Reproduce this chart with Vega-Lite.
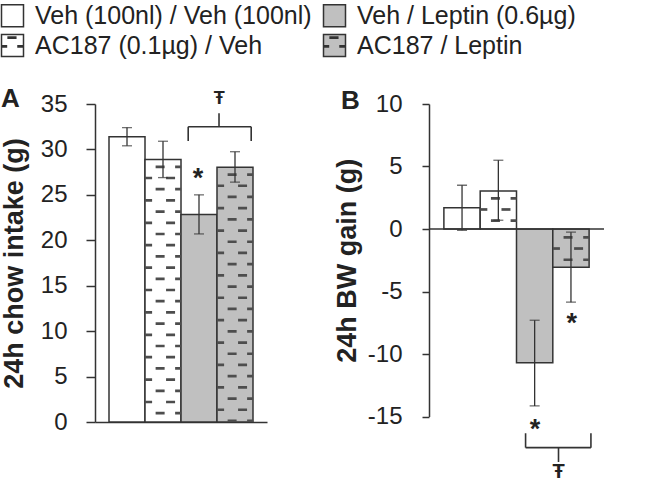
{
  "$schema": "https://vega.github.io/schema/vega-lite/v6.json",
  "padding": {"left": 0, "top": 3, "right": 0, "bottom": 8},
  "background": "white",
  "datasets": {
    "A": [
      {"group": "Veh (100nl) / Veh (100nl)", "value": 31.4, "lo": 30.4, "hi": 32.4},
      {"group": "AC187 (0.1µg) / Veh", "value": 28.9, "lo": 26.9, "hi": 30.9},
      {"group": "Veh / Leptin (0.6µg)", "value": 22.85, "lo": 20.7, "hi": 25.0},
      {"group": "AC187 / Leptin", "value": 28.05, "lo": 26.4, "hi": 29.75}
    ],
    "B": [
      {"group": "Veh (100nl) / Veh (100nl)", "value": 1.7, "lo": -0.1, "hi": 3.5},
      {"group": "AC187 (0.1µg) / Veh", "value": 3.05, "lo": 0.7, "hi": 5.5},
      {"group": "Veh / Leptin (0.6µg)", "value": -10.7, "lo": -14.15, "hi": -7.3},
      {"group": "AC187 / Leptin", "value": -3.05, "lo": -5.85, "hi": -0.25}
    ]
  },
  "config": {
    "font": "Liberation Sans",
    "view": {"stroke": null},
    "axis": {
      "labelFont": "Liberation Sans", "labelFontSize": 24, "labelColor": "#222",
      "titleFont": "Liberation Sans", "titleFontSize": 27, "titleFontWeight": "bold", "titleColor": "#222",
      "domainColor": "#333", "domainWidth": 1.5, "tickColor": "#333", "tickWidth": 1.5, "grid": false
    },
    "legend": {"padding": 0}
  },
  "spacing": 162,
  "bounds": "flush",
  "hconcat": [
    {
      "width": 172,
      "height": 318,
      "data": {"name": "A"},
      "title": {"text": "A", "anchor": "start", "frame": "group", "dx": -94, "dy": 43, "offset": 0, "fontSize": 26, "fontWeight": "bold", "color": "#222", "baseline": "alphabetic"},
      "layer": [
        {
          "mark": {"type": "bar", "stroke": "#333", "strokeWidth": 1.5},
          "encoding": {
            "x": {"field": "group", "type": "nominal",
                  "scale": {"domain": ["Veh (100nl) / Veh (100nl)", "AC187 (0.1µg) / Veh", "Veh / Leptin (0.6µg)", "AC187 / Leptin"], "paddingInner": 0, "paddingOuter": 0.389},
                  "axis": {"labels": false, "ticks": false, "title": null, "domain": true}},
            "y": {"field": "value", "type": "quantitative",
                  "scale": {"domain": [0, 35], "nice": false},
                  "axis": {"values": [0, 5, 10, 15, 20, 25, 30, 35], "title": "24h chow intake (g)", "tickSize": 9, "labelPadding": 19, "titlePadding": 12}},
            "color": {"field": "group", "type": "nominal",
                      "scale": {"domain": ["Veh (100nl) / Veh (100nl)", "AC187 (0.1µg) / Veh", "Veh / Leptin (0.6µg)", "AC187 / Leptin"], "range": ["#ffffff", "#ffffff", "#c0c0c0", "#c0c0c0"]},
                      "legend": {"title": null, "orient": "none", "legendX": -95, "legendY": -101, "columns": 2, "symbolType": "square", "symbolSize": 484, "symbolStrokeColor": "#333", "symbolStrokeWidth": 1.5, "labelFont": "Liberation Sans", "labelFontSize": 25, "labelColor": "#222", "labelOffset": 10, "columnPadding": 8, "rowPadding": 1, "labelLimit": 0,
                                 "encode": {"symbols": {"update": {"shape": [{"test": "indexof(datum.value, 'AC187') >= 0", "value": "M-1,-1H1V1H-1Z M-0.4,-0.78H0.3V-0.66H-0.4Z M-1,0.02H-0.55V0.14H-1Z M0.5,0.02H1V0.14H0.5Z"}, {"value": "square"}]}}}}}
          }
        },
        {
          "transform": [{"filter": "indexof(datum.group, 'AC187') >= 0"}],
          "mark": {"type": "rule", "color": "#4d4d4d", "strokeWidth": 7, "strokeDash": [2.7, 19.7], "strokeDashOffset": 5.15},
          "encoding": {"x": {"field": "group", "type": "nominal", "bandPosition": 0.1}, "y": {"field": "value", "type": "quantitative"}, "y2": {"datum": 0}}
        },
        {
          "transform": [{"filter": "indexof(datum.group, 'AC187') >= 0"}],
          "mark": {"type": "rule", "color": "#4d4d4d", "strokeWidth": 9, "strokeDash": [2.7, 19.7], "strokeDashOffset": 16.35},
          "encoding": {"x": {"field": "group", "type": "nominal", "bandPosition": 0.42}, "y": {"field": "value", "type": "quantitative"}, "y2": {"datum": 0}}
        },
        {
          "transform": [{"filter": "indexof(datum.group, 'AC187') >= 0"}],
          "mark": {"type": "rule", "color": "#4d4d4d", "strokeWidth": 9, "strokeDash": [2.7, 19.7], "strokeDashOffset": 5.15},
          "encoding": {"x": {"field": "group", "type": "nominal", "bandPosition": 0.71}, "y": {"field": "value", "type": "quantitative"}, "y2": {"datum": 0}}
        },
        {
          "transform": [{"filter": "indexof(datum.group, 'AC187') >= 0"}],
          "mark": {"type": "rule", "color": "#4d4d4d", "strokeWidth": 6, "strokeDash": [2.7, 19.7], "strokeDashOffset": 16.35},
          "encoding": {"x": {"field": "group", "type": "nominal", "bandPosition": 0.92}, "y": {"field": "value", "type": "quantitative"}, "y2": {"datum": 0}}
        },
        {
          "mark": {"type": "rule", "color": "#333", "strokeWidth": 1.3},
          "encoding": {"x": {"field": "group", "type": "nominal"}, "y": {"field": "lo", "type": "quantitative"}, "y2": {"field": "hi"}}
        },
        {
          "mark": {"type": "tick", "color": "#333", "thickness": 1.3, "size": 10, "orient": "horizontal"},
          "encoding": {"x": {"field": "group", "type": "nominal"}, "y": {"field": "hi", "type": "quantitative"}}
        },
        {
          "mark": {"type": "tick", "color": "#333", "thickness": 1.3, "size": 10, "orient": "horizontal"},
          "encoding": {"x": {"field": "group", "type": "nominal"}, "y": {"field": "lo", "type": "quantitative"}}
        },
        {
          "data": {"values": [{}]},
          "mark": {"type": "text", "text": "*", "fontSize": 27, "fontWeight": "bold", "baseline": "alphabetic", "color": "#222"},
          "encoding": {"x": {"datum": "Veh / Leptin (0.6µg)", "bandPosition": 0.47}, "y": {"datum": 25.9}}
        },
        {
          "data": {"values": [{}]},
          "mark": {"type": "rule", "color": "#333", "strokeWidth": 1.6},
          "encoding": {"x": {"datum": "Veh / Leptin (0.6µg)", "bandPosition": 0.2}, "x2": {"datum": "AC187 / Leptin", "bandPosition": 0.95}, "y": {"datum": 32.5}}
        },
        {
          "data": {"values": [{}]},
          "mark": {"type": "rule", "color": "#333", "strokeWidth": 1.6},
          "encoding": {"x": {"datum": "Veh / Leptin (0.6µg)", "bandPosition": 0.2}, "y": {"datum": 30.93}, "y2": {"datum": 32.5}}
        },
        {
          "data": {"values": [{}]},
          "mark": {"type": "rule", "color": "#333", "strokeWidth": 1.6},
          "encoding": {"x": {"datum": "AC187 / Leptin", "bandPosition": 0.95}, "y": {"datum": 30.93}, "y2": {"datum": 32.5}}
        },
        {
          "data": {"values": [{}]},
          "mark": {"type": "rule", "color": "#333", "strokeWidth": 1.6},
          "encoding": {"x": {"datum": "AC187 / Leptin", "bandPosition": 0.056}, "y": {"datum": 32.5}, "y2": {"datum": 33.98}}
        },
        {
          "data": {"values": [{}]},
          "mark": {"type": "text", "text": "Ŧ", "fontSize": 18, "fontWeight": "bold", "baseline": "alphabetic", "color": "#222"},
          "encoding": {"x": {"datum": "AC187 / Leptin", "bandPosition": 0.06}, "y": {"datum": 34.95}}
        }
      ]
    },
    {
      "width": 175,
      "height": 312.5,
      "data": {"name": "B"},
      "title": {"text": "B", "anchor": "start", "frame": "group", "dx": -88, "dy": 43, "offset": 0, "fontSize": 26, "fontWeight": "bold", "color": "#222", "baseline": "alphabetic"},
      "layer": [
        {
          "mark": {"type": "bar", "stroke": "#333", "strokeWidth": 1.5},
          "encoding": {
            "x": {"field": "group", "type": "nominal",
                  "scale": {"domain": ["Veh (100nl) / Veh (100nl)", "AC187 (0.1µg) / Veh", "Veh / Leptin (0.6µg)", "AC187 / Leptin"], "paddingInner": 0, "paddingOuter": 0.41},
                  "axis": null},
            "y": {"field": "value", "type": "quantitative",
                  "scale": {"domain": [-15, 10], "nice": false},
                  "axis": {"values": [-15, -10, -5, 0, 5, 10], "labelExpr": "'' + datum.value", "title": "24h BW gain (g)", "tickSize": 7, "labelPadding": 20, "titlePadding": 6}},
            "color": {"field": "group", "type": "nominal",
                      "scale": {"domain": ["Veh (100nl) / Veh (100nl)", "AC187 (0.1µg) / Veh", "Veh / Leptin (0.6µg)", "AC187 / Leptin"], "range": ["#ffffff", "#ffffff", "#c0c0c0", "#c0c0c0"]},
                      "legend": {"title": null, "orient": "none", "legendX": -95, "legendY": -101, "columns": 2, "symbolType": "square", "symbolSize": 484, "symbolStrokeColor": "#333", "symbolStrokeWidth": 1.5, "labelFont": "Liberation Sans", "labelFontSize": 25, "labelColor": "#222", "labelOffset": 10, "columnPadding": 8, "rowPadding": 1, "labelLimit": 0,
                                 "encode": {"symbols": {"update": {"shape": [{"test": "indexof(datum.value, 'AC187') >= 0", "value": "M-1,-1H1V1H-1Z M-0.4,-0.78H0.3V-0.66H-0.4Z M-1,0.02H-0.55V0.14H-1Z M0.5,0.02H1V0.14H0.5Z"}, {"value": "square"}]}}}}}
          }
        },
        {
          "transform": [{"filter": "indexof(datum.group, 'AC187') >= 0"}],
          "mark": {"type": "rule", "color": "#4d4d4d", "strokeWidth": 7, "strokeDash": [2.7, 19.7], "strokeDashOffset": 5.15},
          "encoding": {"x": {"field": "group", "type": "nominal", "bandPosition": 0.1}, "y": {"field": "value", "type": "quantitative"}, "y2": {"datum": 0}}
        },
        {
          "transform": [{"filter": "indexof(datum.group, 'AC187') >= 0"}],
          "mark": {"type": "rule", "color": "#4d4d4d", "strokeWidth": 9, "strokeDash": [2.7, 19.7], "strokeDashOffset": 16.35},
          "encoding": {"x": {"field": "group", "type": "nominal", "bandPosition": 0.42}, "y": {"field": "value", "type": "quantitative"}, "y2": {"datum": 0}}
        },
        {
          "transform": [{"filter": "indexof(datum.group, 'AC187') >= 0"}],
          "mark": {"type": "rule", "color": "#4d4d4d", "strokeWidth": 9, "strokeDash": [2.7, 19.7], "strokeDashOffset": 5.15},
          "encoding": {"x": {"field": "group", "type": "nominal", "bandPosition": 0.71}, "y": {"field": "value", "type": "quantitative"}, "y2": {"datum": 0}}
        },
        {
          "transform": [{"filter": "indexof(datum.group, 'AC187') >= 0"}],
          "mark": {"type": "rule", "color": "#4d4d4d", "strokeWidth": 6, "strokeDash": [2.7, 19.7], "strokeDashOffset": 16.35},
          "encoding": {"x": {"field": "group", "type": "nominal", "bandPosition": 0.92}, "y": {"field": "value", "type": "quantitative"}, "y2": {"datum": 0}}
        },
        {
          "data": {"values": [{}]},
          "mark": {"type": "rule", "color": "#333", "strokeWidth": 1.5},
          "encoding": {"y": {"datum": 0}}
        },
        {
          "mark": {"type": "rule", "color": "#333", "strokeWidth": 1.3},
          "encoding": {"x": {"field": "group", "type": "nominal"}, "y": {"field": "lo", "type": "quantitative"}, "y2": {"field": "hi"}}
        },
        {
          "mark": {"type": "tick", "color": "#333", "thickness": 1.3, "size": 10, "orient": "horizontal"},
          "encoding": {"x": {"field": "group", "type": "nominal"}, "y": {"field": "hi", "type": "quantitative"}}
        },
        {
          "mark": {"type": "tick", "color": "#333", "thickness": 1.3, "size": 10, "orient": "horizontal"},
          "encoding": {"x": {"field": "group", "type": "nominal"}, "y": {"field": "lo", "type": "quantitative"}}
        },
        {
          "data": {"values": [{}]},
          "mark": {"type": "text", "text": "*", "fontSize": 27, "fontWeight": "bold", "baseline": "alphabetic", "color": "#222"},
          "encoding": {"x": {"datum": "AC187 / Leptin", "bandPosition": 0.52}, "y": {"datum": -8.26}}
        },
        {
          "data": {"values": [{}]},
          "mark": {"type": "text", "text": "*", "fontSize": 27, "fontWeight": "bold", "baseline": "alphabetic", "color": "#222"},
          "encoding": {"x": {"datum": "Veh / Leptin (0.6µg)", "bandPosition": 0.51}, "y": {"datum": -16.75}}
        },
        {
          "data": {"values": [{}]},
          "mark": {"type": "rule", "color": "#333", "strokeWidth": 1.6},
          "encoding": {"x": {"datum": "Veh / Leptin (0.6µg)", "bandPosition": 0.25}, "x2": {"datum": "AC187 / Leptin", "bandPosition": 1.05}, "y": {"datum": -17.49}}
        },
        {
          "data": {"values": [{}]},
          "mark": {"type": "rule", "color": "#333", "strokeWidth": 1.6},
          "encoding": {"x": {"datum": "Veh / Leptin (0.6µg)", "bandPosition": 0.25}, "y": {"datum": -16.34}, "y2": {"datum": -17.49}}
        },
        {
          "data": {"values": [{}]},
          "mark": {"type": "rule", "color": "#333", "strokeWidth": 1.6},
          "encoding": {"x": {"datum": "AC187 / Leptin", "bandPosition": 1.05}, "y": {"datum": -16.34}, "y2": {"datum": -17.49}}
        },
        {
          "data": {"values": [{}]},
          "mark": {"type": "rule", "color": "#333", "strokeWidth": 1.6},
          "encoding": {"x": {"datum": "AC187 / Leptin", "bandPosition": 0.157}, "y": {"datum": -17.49}, "y2": {"datum": -18.64}}
        },
        {
          "data": {"values": [{}]},
          "mark": {"type": "text", "text": "Ŧ", "fontSize": 20, "fontWeight": "bold", "baseline": "alphabetic", "color": "#222"},
          "encoding": {"x": {"datum": "AC187 / Leptin", "bandPosition": 0.16}, "y": {"datum": -19.95}}
        }
      ]
    }
  ]
}
